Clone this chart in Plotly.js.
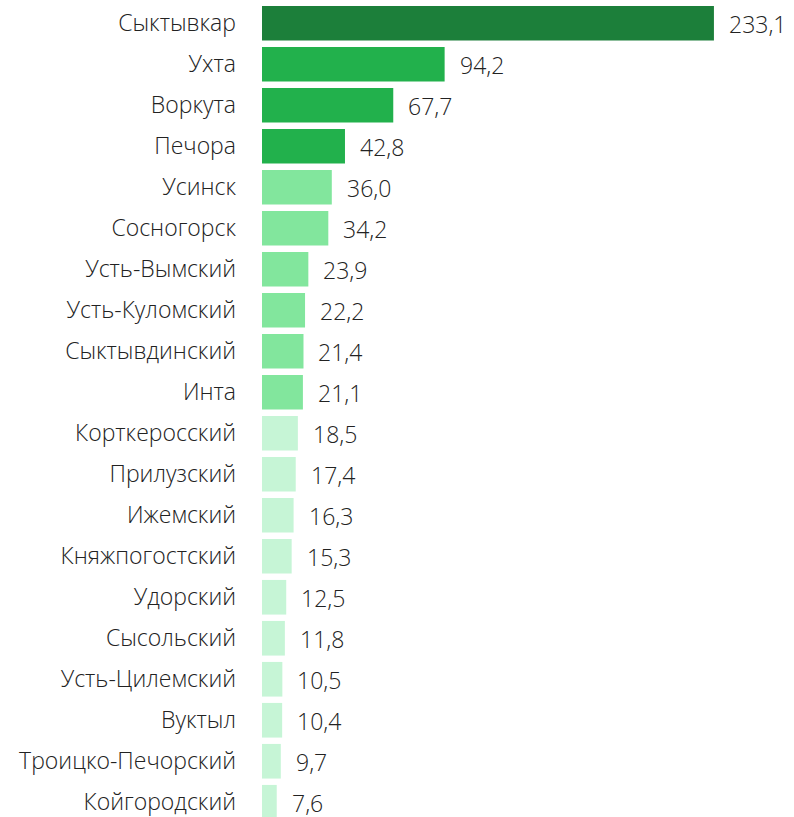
<!DOCTYPE html>
<html><head><meta charset="utf-8">
<script src="https://cdn.plot.ly/plotly-3.0.1.min.js"></script>
<style>html,body{margin:0;padding:0;background:#fff;}#chart{width:794px;height:817px;}</style>
</head><body><div id="chart"></div>
<script>
const categories = ["Сыктывкар","Ухта","Воркута","Печора","Усинск","Сосногорск","Усть-Вымский","Усть-Куломский","Сыктывдинский","Инта","Корткеросский","Прилузский","Ижемский","Княжпогостский","Удорский","Сысольский","Усть-Цилемский","Вуктыл","Троицко-Печорский","Койгородский"];
const values = [233.1,94.2,67.7,42.8,36.0,34.2,23.9,22.2,21.4,21.1,18.5,17.4,16.3,15.3,12.5,11.8,10.5,10.4,9.7,7.6];
const groups = [0,1,1,1,2,2,2,2,2,2,3,3,3,3,3,3,3,3,3,3];
const palette = ["#1c7f3a","#22b14c","#82e69d","#c6f5d6"];

const fontFam = "Open Sans, Lato, sans-serif";
const textColor = "#222222";

const trace = {
  type: "bar", orientation: "h",
  x: values, y: categories,
  marker: {color: groups.map(g => palette[g]), line: {width: 0}},
  hoverinfo: "none"
};

const annotations = values.map((v, i) => ({
  x: v, y: categories[i], xref: "x", yref: "y",
  text: v.toFixed(1).replace(".", ","),
  showarrow: false, xanchor: "left", yanchor: "middle", xshift: 14, yshift: -1,
  borderpad: 0,
  font: {family: fontFam, size: 23, weight: 300, color: textColor}
}));

const layout = {
  width: 794, height: 817,
  margin: {l: 262, r: 0, t: 0, b: 0},
  paper_bgcolor: "#fff", plot_bgcolor: "#fff",
  showlegend: false,
  bargap: 0.155,
  xaxis: {range: [0, 274.4], visible: false, fixedrange: true},
  yaxis: {
    type: "category", range: [19.36, -0.568],
    showgrid: false, zeroline: false, showline: false, ticks: "",
    ticklabelstandoff: 25,
    tickfont: {family: fontFam, size: 23, weight: 300, color: textColor}
  },
  annotations: annotations
};

Plotly.newPlot("chart", [trace], layout, {staticPlot: true, displayModeBar: false});
</script></body></html>
